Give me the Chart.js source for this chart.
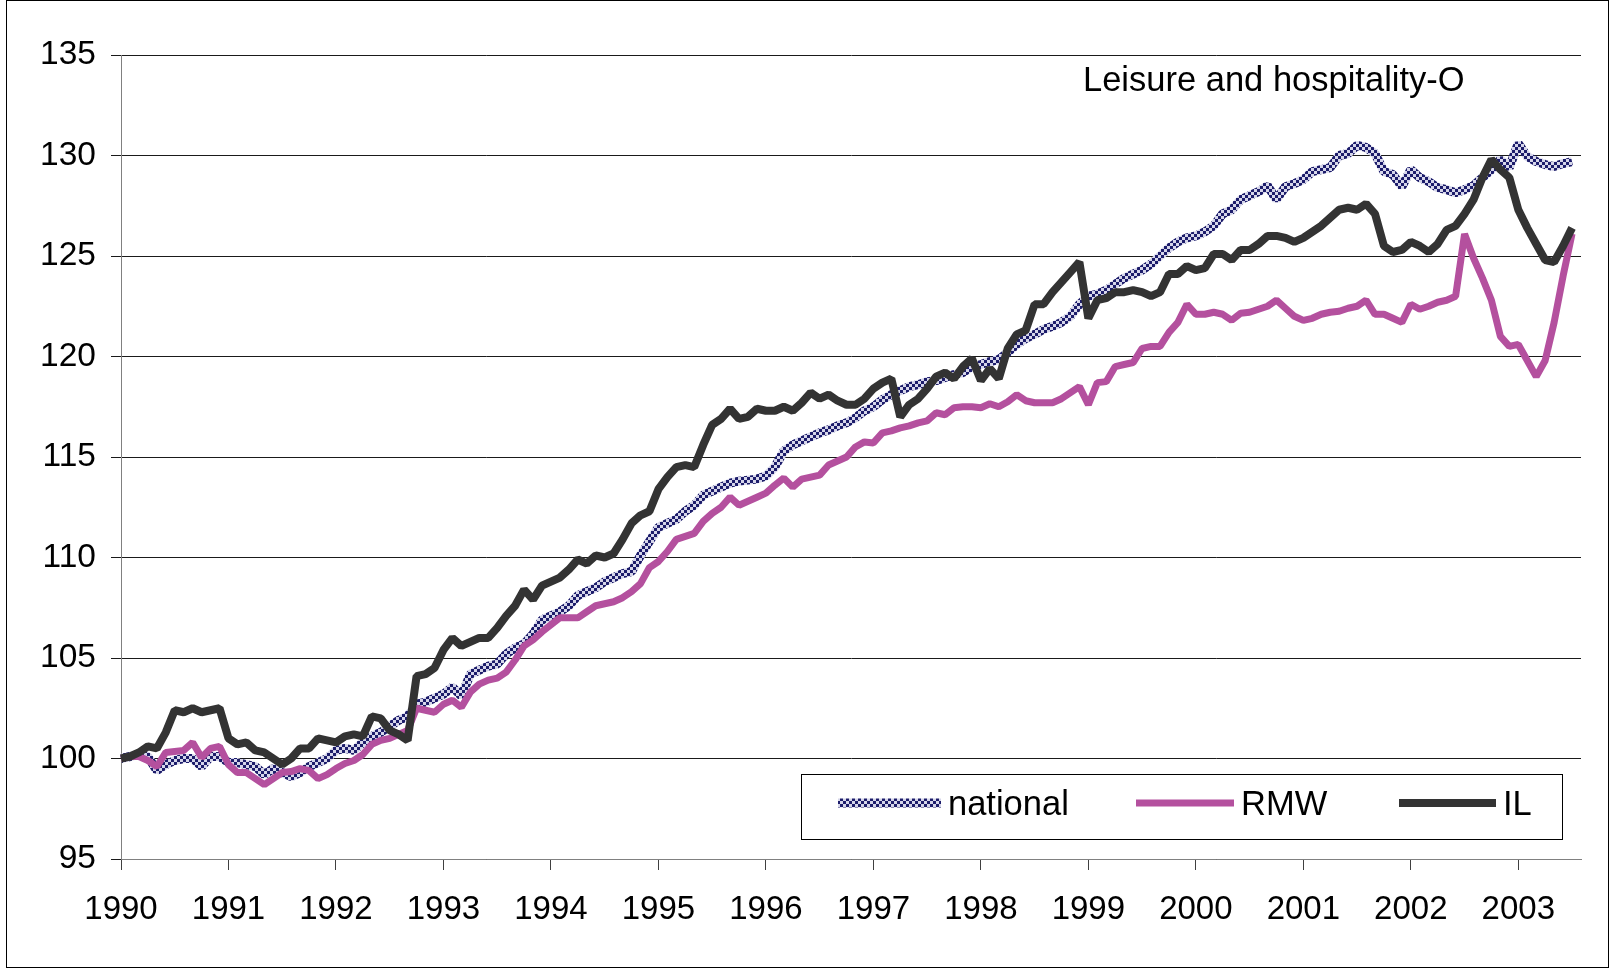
<!DOCTYPE html>
<html>
<head>
<meta charset="utf-8">
<script src="https://cdn.jsdelivr.net/npm/chart.js@4.4.0/dist/chart.umd.min.js"></script>
<style>
    html, body { margin: 0; padding: 0; background: #fff; }
</style>
</head>
<body>
<canvas id="grafico" width="1614" height="970"></canvas>
<script>
// Years shown on the x axis (one tick every 12 months)
const anios = ['1990', '1991', '1992', '1993', '1994', '1995', '1996', '1997',
    '1998', '1999', '2000', '2001', '2002', '2003'];

// Monthly categories Jan 1990 .. Aug 2003
const meses = [];
for (let a = 1990; a <= 2003; a++) {
    for (let m = 1; m <= 12; m++) {
        if (a === 2003 && m > 8) break;
        meses.push(a + '-' + (m < 10 ? '0' + m : m));
    }
}

const nacional = [
    100.0, 100.1, 100.2, 100.1, 99.4, 99.7, 99.9, 100.0, 100.0, 99.6, 100.1, 100.1,
    99.8, 99.8, 99.7, 99.6, 99.2, 99.5, 99.3, 99.1, 99.3, 99.6, 99.8, 100.0,
    100.4, 100.5, 100.4, 100.8, 101.1, 101.3, 101.6, 101.9, 102.1, 102.7, 102.8, 103.0,
    103.2, 103.55, 103.1, 104.2, 104.4, 104.6, 104.7, 105.2, 105.5, 105.7, 106.2, 106.9,
    107.1, 107.3, 107.6, 108.1, 108.3, 108.5, 108.8, 109.0, 109.2, 109.3, 110.1, 110.8,
    111.5, 111.7, 111.9, 112.3, 112.6, 113.1, 113.3, 113.5, 113.7, 113.8, 113.85, 113.9,
    114.05, 114.5, 115.3, 115.6, 115.8, 116.0, 116.2, 116.35, 116.55, 116.7, 116.95, 117.3,
    117.5, 117.85, 118.1, 118.3, 118.5, 118.6, 118.75, 118.8, 118.95, 119.1, 119.2, 119.5,
    119.6, 119.75, 119.85, 120.2, 120.6, 120.9, 121.1, 121.35, 121.5, 121.7, 122.0, 122.6,
    123.0, 123.1, 123.3, 123.6, 123.9, 124.1, 124.3, 124.6, 125.0, 125.4, 125.7, 125.9,
    126.0, 126.2, 126.5, 127.1, 127.3, 127.8, 128.0, 128.2, 128.5, 127.8, 128.45, 128.6,
    128.8, 129.2, 129.3, 129.4, 130.0, 130.1, 130.5, 130.4, 130.1, 129.2, 129.05, 128.45,
    129.3, 128.9, 128.7, 128.4, 128.3, 128.15, 128.3, 128.5, 128.9, 129.3, 129.8, 129.4,
    130.6, 129.95, 129.7, 129.55, 129.45, 129.6, 129.7
];

const rmw = [
    100.0, 100.1, 100.1, 99.9, 99.6, 100.3, 100.35, 100.4, 100.8, 100.05, 100.5, 100.6,
    99.7, 99.3, 99.3, 99.0, 98.7, 99.0, 99.3, 99.35, 99.5, 99.4, 99.0, 99.2,
    99.5, 99.75, 99.9, 100.2, 100.7, 100.9, 101.0, 101.2, 101.4, 102.5, 102.4, 102.3,
    102.7, 102.9, 102.55, 103.3, 103.7, 103.9, 104.0, 104.3, 104.9, 105.6, 105.9, 106.3,
    106.65, 107.0, 107.0, 107.0, 107.3, 107.6, 107.7, 107.8, 108.0, 108.3, 108.7, 109.5,
    109.8, 110.3, 110.9, 111.05, 111.2, 111.8, 112.2, 112.5, 113.0, 112.6, 112.8, 113.0,
    113.2, 113.6, 113.95, 113.5, 113.9, 114.0, 114.1, 114.6, 114.8, 115.0, 115.5, 115.75,
    115.7, 116.2, 116.3, 116.45, 116.55, 116.7, 116.8, 117.2, 117.1, 117.45, 117.5, 117.5,
    117.45, 117.65, 117.5, 117.75, 118.1, 117.8, 117.7, 117.7, 117.7, 117.9, 118.2, 118.5,
    117.6, 118.7, 118.75, 119.5, 119.6, 119.7, 120.4, 120.5, 120.5, 121.2, 121.7, 122.6,
    122.1, 122.1, 122.2, 122.1, 121.8, 122.15, 122.2, 122.35, 122.5, 122.8, 122.4, 122.0,
    121.8, 121.9, 122.1, 122.2, 122.25, 122.4, 122.5, 122.8, 122.1, 122.1, 121.9, 121.7,
    122.6, 122.35, 122.5, 122.7, 122.8, 123.0, 126.1, 124.9, 123.9, 122.8, 121.0, 120.5,
    120.6, 119.8, 119.0, 119.8, 121.7, 124.0, 126.1
];

const il = [
    100.0, 100.1, 100.3, 100.6, 100.5, 101.3, 102.4, 102.3, 102.5, 102.3, 102.4, 102.5,
    101.0, 100.7, 100.8, 100.4, 100.3, 100.0, 99.7, 100.0, 100.5, 100.5, 101.0, 100.9,
    100.8, 101.1, 101.2, 101.1, 102.1, 102.0, 101.4, 101.2, 100.9, 104.1, 104.2, 104.5,
    105.4, 106.0, 105.6, 105.8, 106.0, 106.0, 106.5, 107.1, 107.6, 108.4, 107.9, 108.6,
    108.8, 109.0, 109.4, 109.9, 109.7, 110.1, 110.0, 110.2, 110.9, 111.7, 112.1, 112.3,
    113.4, 114.0, 114.5, 114.6, 114.5, 115.6, 116.6, 116.9, 117.4, 116.9, 117.0, 117.4,
    117.3, 117.3, 117.5, 117.3, 117.7, 118.2, 117.9, 118.1, 117.8, 117.6, 117.6, 117.9,
    118.4, 118.7, 118.9, 117.0, 117.6, 117.9, 118.4, 119.0, 119.2, 118.9, 119.5, 119.9,
    118.8, 119.4, 118.9, 120.4, 121.1, 121.3, 122.6, 122.6, 123.2, 123.7, 124.2, 124.7,
    121.9, 122.8, 122.9, 123.2, 123.2, 123.3, 123.2, 123.0, 123.2, 124.1, 124.1, 124.5,
    124.3, 124.4, 125.1, 125.1, 124.8, 125.3, 125.3, 125.6, 126.0, 126.0, 125.9, 125.7,
    125.9, 126.2, 126.5, 126.9, 127.3, 127.4, 127.3, 127.6, 127.1, 125.5, 125.2, 125.3,
    125.7, 125.5, 125.2, 125.6, 126.3, 126.5, 127.1, 127.8, 128.9, 129.8, 129.3, 128.9,
    127.3, 126.4, 125.6, 124.8, 124.7, 125.5, 126.4
];

const fuente = "'Liberation Sans', Arial, sans-serif";
const contexto = document.getElementById('grafico');
const ctx = contexto.getContext('2d');

// checkered navy / pale lavender pattern for the national series
function crearPatron() {
    const c = document.createElement('canvas');
    c.width = 6;
    c.height = 6;
    const g = c.getContext('2d');
    g.fillStyle = '#d6d6ea';
    g.fillRect(0, 0, 6, 6);
    g.fillStyle = '#1d1d6b';
    g.fillRect(0, 0, 3, 3);
    g.fillRect(3, 3, 3, 3);
    return ctx.createPattern(c, 'repeat');
}
const patron = crearPatron();

const series = [
    { nombre: 'national', datos: nacional, color: patron, ancho: 9, orden: 3 },
    { nombre: 'RMW', datos: rmw, color: '#b4509e', ancho: 7, orden: 2 },
    { nombre: 'IL', datos: il, color: '#333333', ancho: 8, orden: 1 }
];

const adornos = {
    id: 'adornos',
    beforeDraw(chart) {
        const c = chart.ctx;
        c.save();
        c.fillStyle = '#fff';
        c.fillRect(0, 0, chart.width, chart.height);
        c.restore();
    },
    afterDraw(chart) {
        const c = chart.ctx;
        const area = chart.chartArea;
        c.save();

        // outer frame
        c.strokeStyle = '#000';
        c.lineWidth = 1;
        c.strokeRect(6.5, 0.5, 1602, 967);

        // title inside the plot
        c.fillStyle = '#000';
        c.font = '34.5px ' + fuente;
        c.textBaseline = 'alphabetic';
        c.textAlign = 'left';
        c.fillText('Leisure and hospitality-O', area.right - 498, 91);

        // legend box
        const x0 = area.right - 780, y0 = area.bottom - 85;
        const x1 = area.right - 19, y1 = area.bottom - 20;
        c.fillStyle = '#fff';
        c.fillRect(x0, y0, x1 - x0, y1 - y0);
        c.strokeStyle = '#000';
        c.strokeRect(Math.round(x0) + 0.5, Math.round(y0) + 0.5, x1 - x0, y1 - y0);

        const muestras = [[x0 + 37, x0 + 140], [x0 + 335, x0 + 433], [x0 + 598, x0 + 695]];
        const yl = y0 + 29;
        chart.data.datasets.forEach((ds, k) => {
            c.beginPath();
            c.strokeStyle = ds.borderColor;
            c.lineWidth = ds.borderWidth;
            c.lineCap = 'butt';
            c.moveTo(muestras[k][0], yl);
            c.lineTo(muestras[k][1], yl);
            c.stroke();
            c.fillStyle = '#000';
            c.font = '34.5px ' + fuente;
            c.fillText(ds.label, muestras[k][1] + 7, y0 + 41);
        });
        c.restore();
    }
};

new Chart(contexto, {
    type: 'line',
    data: {
        labels: meses,
        datasets: series.map(s => ({
            label: s.nombre,
            data: s.datos,
            borderColor: s.color,
            backgroundColor: s.color,
            borderWidth: s.ancho,
            borderJoinStyle: 'bevel',
            pointRadius: 0,
            tension: 0,
            fill: false,
            order: s.orden
        }))
    },
    options: {
        responsive: false,
        animation: false,
        devicePixelRatio: 1,
        layout: { padding: { top: 55, right: 33, bottom: 0, left: 0 } },
        plugins: {
            legend: { display: false },
            tooltip: { enabled: false },
            title: { display: false }
        },
        scales: {
            x: {
                offset: false,
                afterFit(scale) { scale.height = 111; },
                grid: {
                    drawOnChartArea: false,
                    drawTicks: true,
                    tickLength: 11,
                    color: '#404040',
                    tickColor: '#404040'
                },
                border: { display: true, color: '#808080', width: 1 },
                ticks: {
                    autoSkip: false,
                    maxRotation: 0,
                    minRotation: 0,
                    padding: 20,
                    color: '#000',
                    font: { family: fuente, size: 33 },
                    callback: (v, i) => i % 12 === 0 ? anios[i / 12] : null
                }
            },
            y: {
                min: 95,
                max: 135,
                afterFit(scale) { scale.width = 121; },
                grid: {
                    color: '#1a1a1a',
                    tickLength: 10,
                    tickColor: '#1a1a1a'
                },
                border: { display: true, color: '#808080', width: 1 },
                ticks: {
                    stepSize: 5,
                    padding: 15,
                    color: '#000',
                    font: { family: fuente, size: 33.5 }
                }
            }
        }
    },
    plugins: [adornos]
});
</script>
</body>
</html>
